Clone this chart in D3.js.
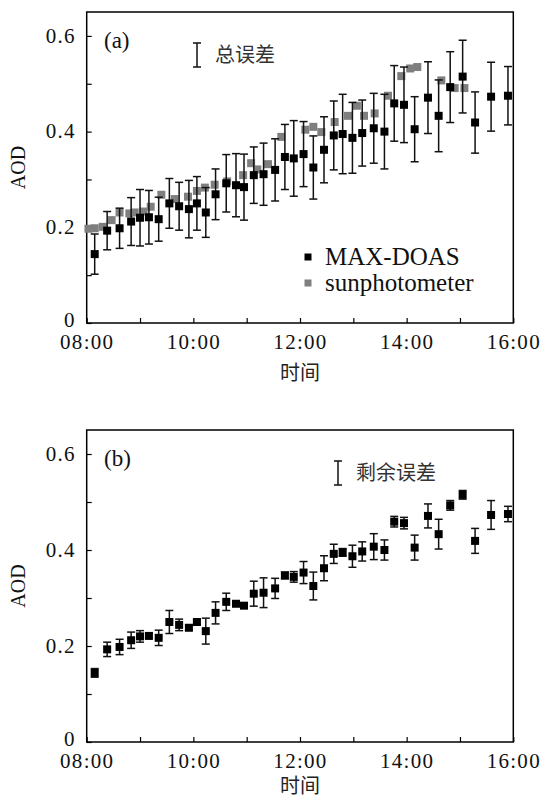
<!DOCTYPE html>
<html>
<head>
<meta charset="utf-8">
<script src="https://cdn.jsdelivr.net/npm/d3@7"></script>
<style>
  html, body { margin: 0; padding: 0; background: #fff; }
  svg { display: block; }
</style>
</head>
<body>
<svg id="chart" width="543" height="800"></svg>
<script>
// ---------------- data ----------------
const times = ["08:09","08:23","08:37","08:50","09:00","09:10","09:21","09:33","09:44","09:55",
  "10:04","10:14","10:25","10:37","10:48","10:57","11:08","11:19","11:32","11:43",
  "11:53","12:04","12:15","12:27","12:38","12:48","12:59","13:10","13:23","13:35",
  "13:46","13:57","14:09","14:24","14:36","14:49","15:03","15:17","15:35","15:54"];
const maxdoasAOD = [0.144,0.193,0.198,0.212,0.220,0.221,0.217,0.250,0.244,0.238,
  0.250,0.231,0.269,0.292,0.288,0.284,0.309,0.311,0.320,0.347,
  0.344,0.353,0.325,0.362,0.392,0.395,0.387,0.397,0.407,0.400,
  0.459,0.456,0.405,0.471,0.433,0.493,0.515,0.419,0.473,0.475];
const totalError = [0.042,0.040,0.042,0.050,0.059,0.056,0.046,0.052,0.050,0.060,
  0.056,0.052,0.053,0.060,0.066,0.069,0.059,0.065,0.065,0.068,
  0.079,0.068,0.066,0.069,0.072,0.083,0.074,0.069,0.073,0.078,
  0.079,0.079,0.068,0.075,0.075,0.074,0.076,0.064,0.072,0.061];
const residualError = [0.009,0.015,0.016,0.017,0.012,0.005,0.016,0.024,0.012,0.005,
  0.005,0.027,0.023,0.018,0.005,0.004,0.026,0.031,0.021,0.007,
  0.011,0.023,0.029,0.026,0.020,0.008,0.023,0.020,0.027,0.021,
  0.011,0.012,0.026,0.025,0.031,0.010,0.009,0.026,0.030,0.016];
const sunTimes = ["08:02","08:09","08:18","08:28","08:37","08:48","08:54","09:04","09:12","09:24",
  "09:39","09:54","10:04","10:13","10:24","10:38","10:56","11:05","11:12","11:24",
  "11:39","12:06","12:15","12:24","12:39","12:54","13:04","13:12","13:24","13:39",
  "13:54","14:04","14:12","14:39","14:54","15:05"];
const sunAOD = [0.197,0.198,0.201,0.215,0.231,0.229,0.231,0.233,0.243,0.268,
  0.259,0.264,0.276,0.283,0.289,0.296,0.309,0.334,0.321,0.332,
  0.389,0.404,0.410,0.399,0.420,0.433,0.454,0.433,0.438,0.475,
  0.516,0.532,0.535,0.507,0.491,0.491];
const yTickValues = [0, 0.1, 0.2, 0.3, 0.4, 0.5, 0.6];
const yTickLabels = ["0", "", "0.2", "", "0.4", "", "0.6"];
const xTickTimes = ["08:00","09:00","10:00","11:00","12:00","13:00","14:00","15:00","16:00"];
const xTickLabels = ["08:00","","10:00","","12:00","","14:00","","16:00"];
const seriesNames = ["MAX-DOAS", "sunphotometer"];
const panelLabels = ["(a)", "(b)"];
const errorLegendLabels = ["总误差", "剩余误差"];
const xTitle = "时间";
const yTitle = "AOD";

// ---------------- layout ----------------
const SERIF = "'Liberation Serif', 'DejaVu Serif', serif";
const CJK = "'Noto Sans CJK SC', sans-serif";
const parse = d3.timeParse("%H:%M");
const svg = d3.select("#chart");
const left = 86.7, right = 513.3;
const panels = [
  { top: 12, bottom: 323, err: totalError, sun: true, label: panelLabels[0], errLabel: errorLegendLabels[0], errX: 197, titleOff: 57 },
  { top: 430, bottom: 742, err: residualError, sun: false, label: panelLabels[1], errLabel: errorLegendLabels[1], errX: 338, titleOff: 51 }
];

const x = d3.scaleTime().domain([parse("08:00"), parse("16:00")]).range([left, right]);

panels.forEach((p, pi) => {
  const g = svg.append("g");
  const y = d3.scaleLinear().domain([0, 0.65]).range([p.bottom, p.top]);

  // y axis (ticks inward)
  const yAxis = d3.axisLeft(y).tickValues(yTickValues)
    .tickFormat((d, i) => yTickLabels[i])
    .tickSizeInner(-5).tickSizeOuter(0).tickPadding(11);
  const ya = g.append("g").attr("transform", `translate(${left},0)`).call(yAxis);
  ya.attr("font-family", null).attr("font-size", null);
  ya.select(".domain").remove();
  ya.selectAll("line").attr("stroke", "#000").attr("stroke-width", 1.2);
  ya.selectAll("text").style("font-family", SERIF).style("font-size", "21px").attr("fill", "#111")
    .style("letter-spacing", "1.2px").attr("dy", (d, i) => i === 0 ? "0.15em" : "0.3em");

  // x axis
  const xAxis = d3.axisBottom(x).tickValues(xTickTimes.map(parse))
    .tickFormat((d, i) => xTickLabels[i])
    .tickSizeInner(-5).tickSizeOuter(0).tickPadding(10);
  const xa = g.append("g").attr("transform", `translate(0,${p.bottom})`).call(xAxis);
  xa.attr("font-family", null).attr("font-size", null);
  xa.select(".domain").remove();
  xa.selectAll("line").attr("stroke", "#000").attr("stroke-width", 1.2);
  xa.selectAll("text").style("font-family", SERIF).style("font-size", "21px").attr("fill", "#111")
    .style("letter-spacing", "1.3px").attr("dy", "0.74em");

  // frame
  g.append("rect").attr("x", left).attr("y", p.top)
    .attr("width", right - left).attr("height", p.bottom - p.top)
    .attr("fill", "none").attr("stroke", "#000").attr("stroke-width", 1.5);

  // titles
  g.append("text").style("font-family", SERIF).style("font-size", "20px").attr("fill", "#111")
    .attr("text-anchor", "middle")
    .attr("transform", `translate(25,${(p.top + p.bottom) / 2}) rotate(-90)`)
    .text(yTitle);
  g.append("text").style("font-family", CJK).style("font-size", "20px").attr("fill", "#222")
    .attr("text-anchor", "middle").attr("x", (left + right) / 2).attr("y", p.bottom + p.titleOff)
    .text(xTitle);

  // panel label
  g.append("text").style("font-family", SERIF).style("font-size", "23px").attr("fill", "#111")
    .attr("x", 104).attr("y", p.top + 36).text(p.label);

  // error legend
  const ey0 = p.top + 31, ey1 = p.top + 55;
  const eg = g.append("g").attr("stroke", "#111").attr("stroke-width", 1.5);
  eg.append("line").attr("x1", p.errX).attr("x2", p.errX).attr("y1", ey0).attr("y2", ey1);
  eg.append("line").attr("x1", p.errX - 4).attr("x2", p.errX + 4).attr("y1", ey0).attr("y2", ey0);
  eg.append("line").attr("x1", p.errX - 4).attr("x2", p.errX + 4).attr("y1", ey1).attr("y2", ey1);
  g.append("text").style("font-family", CJK).style("font-size", "20px").attr("fill", "#333")
    .attr("x", p.errX + 18).attr("y", (ey0 + ey1) / 2 + 7).text(p.errLabel);

  // sunphotometer
  const ms = 8;
  if (p.sun) {
    g.append("g").selectAll("rect").data(sunTimes.map((t, i) => ({ t: parse(t), v: sunAOD[i] })))
      .join("rect")
      .attr("x", d => x(d.t) - ms / 2).attr("y", d => y(d.v) - ms / 2)
      .attr("width", ms).attr("height", ms).attr("fill", "#7f7f7f");
  }

  // MAX-DOAS with error bars
  const md = times.map((t, i) => ({ t: parse(t), v: maxdoasAOD[i], e: p.err[i] }));
  const eb = g.append("g").attr("stroke", "#111").attr("stroke-width", 1.5);
  md.forEach(d => {
    const cx = x(d.t);
    eb.append("line").attr("x1", cx).attr("x2", cx).attr("y1", y(d.v - d.e)).attr("y2", y(d.v + d.e));
    eb.append("line").attr("x1", cx - 4).attr("x2", cx + 4).attr("y1", y(d.v - d.e)).attr("y2", y(d.v - d.e));
    eb.append("line").attr("x1", cx - 4).attr("x2", cx + 4).attr("y1", y(d.v + d.e)).attr("y2", y(d.v + d.e));
  });
  g.append("g").selectAll("rect").data(md).join("rect")
    .attr("x", d => x(d.t) - ms / 2).attr("y", d => y(d.v) - ms / 2)
    .attr("width", ms).attr("height", ms).attr("fill", "#000");

  // series legend (panel a only)
  if (p.sun) {
    const lg = g.append("g");
    const colors = ["#000", "#7f7f7f"];
    seriesNames.forEach((n, i) => {
      const ly = 257 + i * 26;
      lg.append("rect").attr("x", 308 - 3.5).attr("y", ly - 3.5).attr("width", 7).attr("height", 7)
        .attr("fill", colors[i]);
      lg.append("text").style("font-family", SERIF).style("font-size", "25px").attr("fill", "#111")
        .attr("x", 325).attr("y", ly + 8).text(n);
    });
  }
});
</script>
</body>
</html>
